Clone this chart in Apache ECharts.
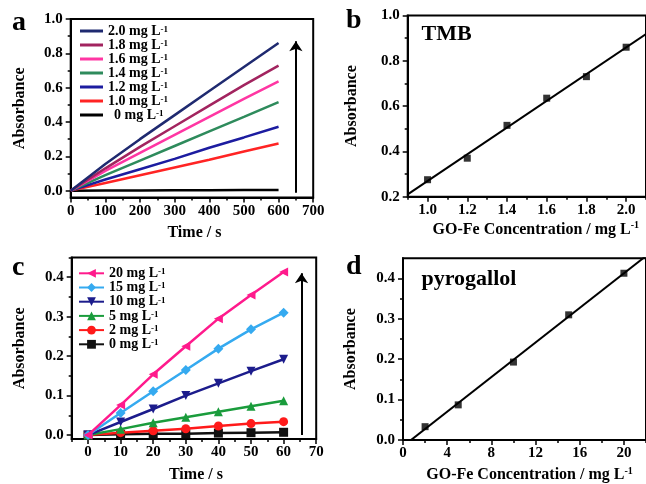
<!DOCTYPE html>
<html>
<head>
<meta charset="utf-8">
<script src="https://cdn.jsdelivr.net/npm/echarts@6/dist/echarts.min.js"></script>
<style>
  html, body { margin: 0; padding: 0; background: #fff; }
  #chart { width: 646px; height: 484px; }
</style>
</head>
<body>
<div id="chart"></div>
<script>
// ---- Panel a: TMB absorbance vs time at different GO-Fe concentrations ----
const timeA = [0, 100, 200, 300, 400, 500, 600];
const absA_20 = [0, 0.155, 0.300, 0.440, 0.580, 0.720, 0.860];
const absA_18 = [0, 0.130, 0.255, 0.375, 0.495, 0.615, 0.728];
const absA_16 = [0, 0.115, 0.220, 0.325, 0.430, 0.535, 0.636];
const absA_14 = [0, 0.090, 0.175, 0.260, 0.345, 0.430, 0.516];
const absA_12 = [0, 0.065, 0.125, 0.185, 0.250, 0.310, 0.372];
const absA_10 = [0, 0.045, 0.090, 0.135, 0.180, 0.228, 0.275];
const absA_00 = [0, 0.001, 0.001, 0.002, 0.002, 0.003, 0.003];
const concA = ['2.0', '1.8', '1.6', '1.4', '1.2', '1.0', '0'];
const colorsA = ['#1f2a70', '#a2245f', '#ff36a3', '#2e8b5c', '#1c1ca0', '#ff2424', '#000000'];
const arrowA = [[650, -0.012], [650, 0.87]];

// ---- Panel b: TMB calibration ----
const concB = [1.0, 1.2, 1.4, 1.6, 1.8, 2.0];
const absB = [0.275, 0.370, 0.515, 0.635, 0.730, 0.860];

// ---- Panel c: pyrogallol absorbance vs time ----
const timeC = [0, 10, 20, 30, 40, 50, 60];
const absC_20 = [0, 0.076, 0.154, 0.225, 0.295, 0.355, 0.413];
const absC_15 = [0, 0.056, 0.111, 0.165, 0.219, 0.268, 0.310];
const absC_10 = [0, 0.033, 0.066, 0.100, 0.131, 0.162, 0.192];
const absC_05 = [0, 0.015, 0.031, 0.045, 0.059, 0.073, 0.087];
const absC_02 = [0, 0.006, 0.011, 0.016, 0.023, 0.029, 0.034];
const absC_00 = [0, 0.002, 0.003, 0.003, 0.005, 0.006, 0.007];
const concC = ['20', '15', '10', '5', '2', '0'];
const colorsC = ['#ff1a8c', '#35aaf0', '#1c1c8c', '#1a9c3c', '#ff1a1a', '#111111'];
const symbolsC = ['triangle', 'diamond', 'triangle', 'triangle', 'circle', 'rect'];
const symbolRotC = [90, 0, 180, 0, 0, 0];
const arrowC = [[65.5, 0.0], [65.5, 0.41]];

// ---- Panel d: pyrogallol calibration ----
const concD = [2, 5, 10, 15, 20];
const absD = [0.033, 0.087, 0.193, 0.310, 0.413];

// ---- Tick positions ----
const ticksAx = [0, 100, 200, 300, 400, 500, 600, 700];
const minorAx = [50, 150, 250, 350, 450, 550, 650];
const ticksAy = [0, 0.2, 0.4, 0.6, 0.8, 1.0];
const minorAy = [0.1, 0.3, 0.5, 0.7, 0.9];
const ticksBx = [1.0, 1.2, 1.4, 1.6, 1.8, 2.0];
const minorBx = [0.9, 1.1, 1.3, 1.5, 1.7, 1.9, 2.1];
const ticksBy = [0.2, 0.4, 0.6, 0.8, 1.0];
const minorBy = [0.3, 0.5, 0.7, 0.9];
const ticksCx = [0, 10, 20, 30, 40, 50, 60, 70];
const minorCx = [-5, 5, 15, 25, 35, 45, 55, 65];
const ticksCy = [0, 0.1, 0.2, 0.3, 0.4];
const minorCy = [0.05, 0.15, 0.25, 0.35, 0.45];
const ticksDx = [0, 4, 8, 12, 16, 20];
const minorDx = [2, 6, 10, 14, 18, 22];
const ticksDy = [0, 0.1, 0.2, 0.3, 0.4];
const minorDy = [0.05, 0.15, 0.25, 0.35];

const FONT = '"Liberation Serif", "Times New Roman", serif';

// least-squares straight line through the calibration points
function fitLine(xs, ys, x0, x1) {
  const n = xs.length;
  const mx = xs.reduce((s, v) => s + v, 0) / n;
  const my = ys.reduce((s, v) => s + v, 0) / n;
  let sxy = 0, sxx = 0;
  for (let i = 0; i < n; i++) { sxy += (xs[i] - mx) * (ys[i] - my); sxx += (xs[i] - mx) ** 2; }
  const k = sxy / sxx, b = my - k * mx;
  return [[x0, k * x0 + b], [x1, k * x1 + b]];
}

const grids = [
  { left: 70.7, top: 19, width: 242.5, height: 178.5 },
  { left: 407.7, top: 15.5, width: 240.7, height: 181.2 },
  { left: 71.7, top: 257.5, width: 244.5, height: 182 },
  { left: 403, top: 258.3, width: 248, height: 181.7 }
].map(g => Object.assign(g, { show: true, borderColor: '#000', borderWidth: 2, backgroundColor: 'transparent' }));

const richSup = {
  n: { fontFamily: FONT, fontWeight: 'bold', fontSize: 16, color: '#000', lineHeight: 18 },
  s: { fontFamily: FONT, fontWeight: 'bold', fontSize: 10, color: '#000', lineHeight: 18, verticalAlign: 'top', padding: [0, 0, 7, 0] }
};

// main axis (line, major ticks, labels) + overlay axis for minor ticks
function axes(dim, grid, min, max, major, minor, fmt, labelMargin, name, nameGap, namePad) {
  const pos = dim === 'x' ? 'bottom' : 'left';
  const main = {
    type: 'value', gridIndex: grid, min, max, position: pos,
    axisLine: { show: true, onZero: false, lineStyle: { color: '#000', width: 2 } },
    axisTick: { show: true, inside: false, length: 5, customValues: major, lineStyle: { color: '#000', width: 1.5 } },
    axisLabel: { show: true, customValues: major, formatter: fmt, margin: labelMargin,
      fontFamily: FONT, fontWeight: 'bold', fontSize: 15, color: '#000' },
    splitLine: { show: false },
    name: name, nameLocation: 'middle', nameGap: nameGap,
    nameTextStyle: { fontFamily: FONT, fontWeight: 'bold', fontSize: 16, color: '#000',
      padding: namePad || 0, rich: richSup }
  };
  const sub = {
    type: 'value', gridIndex: grid, min, max, position: pos,
    axisLine: { show: false, onZero: false },
    axisTick: { show: true, inside: false, length: 3, customValues: minor, lineStyle: { color: '#000', width: 1.5 } },
    axisLabel: { show: false },
    splitLine: { show: false }
  };
  return [main, sub];
}

const f1 = v => v.toFixed(1);
const f0 = v => String(Math.round(v));

const xAxis = [
  ...axes('x', 0, 0, 700, ticksAx, minorAx, f0, 6, 'Time / s', 27, [0, 0, 0, 5]),
  ...axes('x', 1, 0.9, 2.1, ticksBx, minorBx, f1, 6, '{n|GO-Fe Concentration / mg L}{s|-1}', 24, [0, 0, 0, 18]),
  ...axes('x', 2, -5, 70, ticksCx, minorCx, f0, 6, 'Time / s', 28, [0, 0, 0, 4]),
  ...axes('x', 3, 0, 22, ticksDx, minorDx, f0, 6, '{n|GO-Fe Concentration / mg L}{s|-1}', 26, [0, 0, 0, 10])
];
const yAxis = [
  ...axes('y', 0, -0.04, 1.0, ticksAy, minorAy, f1, 8, 'Absorbance', 43),
  ...axes('y', 1, 0.2, 1.0, ticksBy, minorBy, f1, 8, 'Absorbance', 48),
  ...axes('y', 2, -0.01, 0.45, ticksCy, minorCy, f1, 8, 'Absorbance', 44),
  ...axes('y', 3, 0, 0.45, ticksDy, minorDy, f1, 8, 'Absorbance', 44)
];

const zip = (xs, ys) => xs.map((x, i) => [x, ys[i]]);
const series = [];

const arrowMark = (pts) => ({
  silent: true, symbol: ['none', 'arrow'], symbolSize: 10,
  label: { show: false }, lineStyle: { color: '#000', width: 2, type: 'solid' },
  emphasis: { disabled: true },
  data: [[{ coord: pts[0] }, { coord: pts[1] }]]
});

// panel a curves
[absA_20, absA_18, absA_16, absA_14, absA_12, absA_10, absA_00].forEach((ys, i) => {
  series.push({
    name: 'TMB ' + concA[i], type: 'line', xAxisIndex: 0, yAxisIndex: 0,
    data: zip(timeA, ys), symbol: 'none', smooth: false,
    lineStyle: { color: colorsA[i], width: 2.5 }, itemStyle: { color: colorsA[i] },
    z: 10 - i
  });
});
// panel a arrow
series.push({ type: 'line', xAxisIndex: 0, yAxisIndex: 0, data: [], silent: true, markLine: arrowMark(arrowA) });

// panel b calibration
series.push({
  type: 'line', xAxisIndex: 2, yAxisIndex: 2, data: fitLine(concB, absB, 0.9, 2.1),
  symbol: 'none', lineStyle: { color: '#000', width: 2 }, silent: true
});
series.push({
  type: 'scatter', xAxisIndex: 2, yAxisIndex: 2, data: zip(concB, absB),
  symbol: 'rect', symbolSize: 7, itemStyle: { color: '#000' }
});

// panel c curves
[absC_20, absC_15, absC_10, absC_05, absC_02, absC_00].forEach((ys, i) => {
  series.push({
    name: 'pyrogallol ' + concC[i], type: 'line', xAxisIndex: 4, yAxisIndex: 4,
    data: zip(timeC, ys), symbol: symbolsC[i], symbolRotate: symbolRotC[i],
    symbolSize: symbolsC[i] === 'diamond' ? 10 : 9, showSymbol: true,
    lineStyle: { color: colorsC[i], width: 2.5 }, itemStyle: { color: colorsC[i] },
    z: 10 - i
  });
});
series.push({ type: 'line', xAxisIndex: 4, yAxisIndex: 4, data: [], silent: true, markLine: arrowMark(arrowC) });

// panel d calibration
series.push({
  type: 'line', xAxisIndex: 6, yAxisIndex: 6, data: fitLine(concD, absD, 0, 22),
  symbol: 'none', lineStyle: { color: '#000', width: 2 }, silent: true, clip: true
});
series.push({
  type: 'scatter', xAxisIndex: 6, yAxisIndex: 6, data: zip(concD, absD),
  symbol: 'rect', symbolSize: 7, itemStyle: { color: '#000' }
});

const legendRich = {
  n: { fontFamily: FONT, fontWeight: 'bold', fontSize: 14, color: '#000', lineHeight: 12 },
  z: { fontFamily: FONT, fontWeight: 'bold', fontSize: 14, color: '#000', lineHeight: 12, padding: [0, 0, 0, 6] },
  s: { fontFamily: FONT, fontWeight: 'bold', fontSize: 9, color: '#000', lineHeight: 12, verticalAlign: 'top', padding: [0, 0, 4, 0] }
};

const legends = [
  {
    data: concA.map(c => ({ name: 'TMB ' + c, icon: 'rect' })), left: 80, top: 24, orient: 'vertical',
    itemWidth: 23, itemHeight: 3, itemGap: 0, itemTextGap: 2, padding: 0, selectedMode: false,
    formatter: nm => { const c = nm.split(' ')[1]; return (c === '0' ? '{z|' : '{n|') + c + ' mg L}{s|-1}'; },
    textStyle: { rich: legendRich }
  },
  {
    data: concC.map(c => 'pyrogallol ' + c), left: 78, top: 266.3, orient: 'vertical',
    itemWidth: 25, itemHeight: 11, itemGap: 0.2, itemTextGap: 4, padding: 0, selectedMode: false,
    formatter: nm => '{n|' + nm.split(' ')[1] + ' mg L}{s|-1}',
    textStyle: { rich: legendRich }
  }
];

const textEl = (text, x, y, size) => ({
  type: 'text', left: x, top: y,
  style: { text, font: 'bold ' + size + 'px ' + FONT, fill: '#000' }
});

const graphic = [
  textEl('a', 12, 9, 28),
  textEl('b', 346, 7, 28),
  textEl('c', 12, 254, 28),
  textEl('d', 346, 253, 28),
  textEl('TMB', 421.5, 23, 22),
  textEl('pyrogallol', 421.5, 268, 22)
];

const chart = echarts.init(document.getElementById('chart'), null, { renderer: 'canvas' });
chart.setOption({
  animation: false,
  backgroundColor: '#fff',
  grid: grids,
  xAxis, yAxis,
  legend: legends,
  graphic,
  series
});
</script>
</body>
</html>
